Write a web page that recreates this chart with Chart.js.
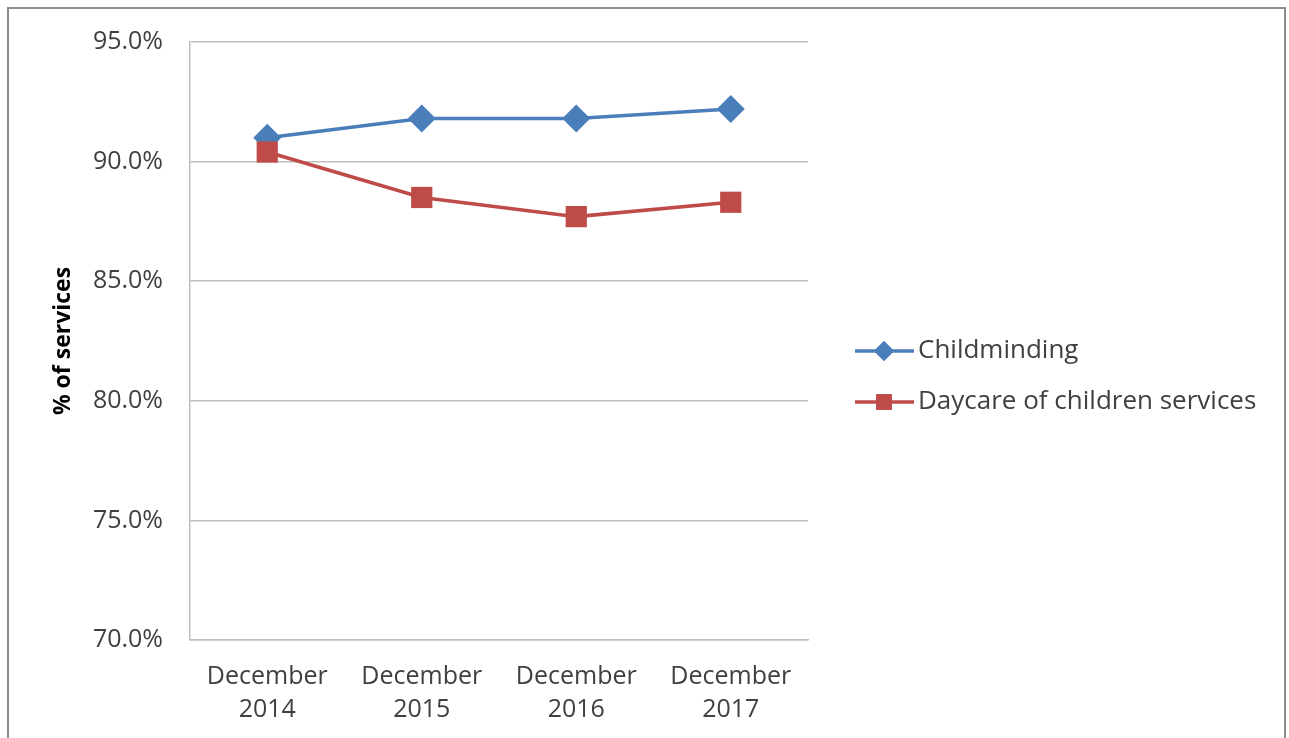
<!DOCTYPE html>
<html>
<head>
<meta charset="utf-8">
<script src="https://cdn.jsdelivr.net/npm/chart.js@4/dist/chart.umd.min.js"></script>
<style>
  html, body { margin: 0; padding: 0; background: #fff; }
  #wrap { width: 1289px; height: 738px; position: relative; }
</style>
</head>
<body>
<div id="wrap"><canvas id="chart" width="1289" height="738"></canvas></div>
<script>
const categories = [['December', '2014'], ['December', '2015'], ['December', '2016'], ['December', '2017']];
const childminding = [91.0, 91.8, 91.8, 92.2];
const daycare = [90.4, 88.5, 87.7, 88.3];
const seriesNames = ['Childminding', 'Daycare of children services'];
const yMin = 70, yMax = 95, yStep = 5;

const blue = '#4a7ebb';
const red = '#be4b48';
const textColor = '#404040';
const gridColor = '#c0c0c0';
const fontFamily = "'Open Sans', 'Liberation Sans', sans-serif";

// outer frame + legend drawn to the right of the plot
const framePlugin = {
  id: 'frame',
  beforeDraw(chart) {
    const ctx = chart.ctx;
    ctx.save();
    ctx.fillStyle = '#fff';
    ctx.fillRect(0, 0, chart.width, chart.height);
    ctx.strokeStyle = '#8c8c8c';
    ctx.lineWidth = 2;
    ctx.strokeRect(8, 8, 1277, 760);
    ctx.restore();
  },
  afterDraw(chart) {
    const ctx = chart.ctx;
    const items = [
      { name: seriesNames[0], color: blue, style: 'rectRot', r: 10 },
      { name: seriesNames[1], color: red, style: 'rect', r: 11 }
    ];
    ctx.save();
    items.forEach((it, i) => {
      const y = 351 + i * 51;
      ctx.strokeStyle = it.color;
      ctx.lineWidth = 3.5;
      ctx.beginPath();
      ctx.moveTo(855, y);
      ctx.lineTo(914, y);
      ctx.stroke();
      ctx.fillStyle = it.color;
      Chart.helpers.drawPoint(ctx, { pointStyle: it.style, radius: it.r, borderWidth: 0 }, 884, y);
      ctx.fill();
      ctx.fillStyle = textColor;
      ctx.font = '26px ' + fontFamily;
      ctx.textBaseline = 'middle';
      ctx.fillText(it.name, 918, y);
    });
    ctx.restore();
  }
};

new Chart(document.getElementById('chart'), {
  type: 'line',
  data: {
    labels: categories,
    datasets: [
      {
        label: seriesNames[0],
        data: childminding,
        order: 1,
        borderColor: blue,
        backgroundColor: blue,
        borderWidth: 3.5,
        pointStyle: 'rectRot',
        pointRadius: 14,
        pointHoverRadius: 14,
        pointBorderWidth: 0,
        tension: 0
      },
      {
        label: seriesNames[1],
        data: daycare,
        order: 0,
        borderColor: red,
        backgroundColor: red,
        borderWidth: 3.5,
        pointStyle: 'rect',
        pointRadius: 15,
        pointHoverRadius: 15,
        pointBorderWidth: 0,
        tension: 0
      }
    ]
  },
  options: {
    responsive: false,
    animation: false,
    layout: { padding: { left: 46, right: 481, top: 41, bottom: 0 } },
    plugins: {
      legend: { display: false },
      tooltip: { enabled: false }
    },
    scales: {
      x: {
        offset: true,
        grid: { display: false, drawTicks: false },
        border: { display: true, color: gridColor, width: 1.5 },
        ticks: {
          color: textColor,
          font: { family: fontFamily, size: 25, lineHeight: 1.32 },
          padding: 20,
          maxRotation: 0
        },
        afterFit(scale) { scale.height = 98; }
      },
      y: {
        min: yMin,
        max: yMax,
        grid: { color: gridColor, lineWidth: 1.5, drawTicks: false },
        border: { display: true, color: gridColor, width: 1.5 },
        ticks: {
          stepSize: yStep,
          color: textColor,
          padding: 27,
          font: { family: fontFamily, size: 25 },
          callback: v => v.toFixed(1) + '%'
        },
        title: {
          display: true,
          text: '% of services',
          color: '#000',
          font: { family: fontFamily, size: 23, weight: 'bold' }
        },
        afterFit(scale) { scale.width = 144; }
      }
    }
  },
  plugins: [framePlugin]
});
</script>
</body>
</html>
